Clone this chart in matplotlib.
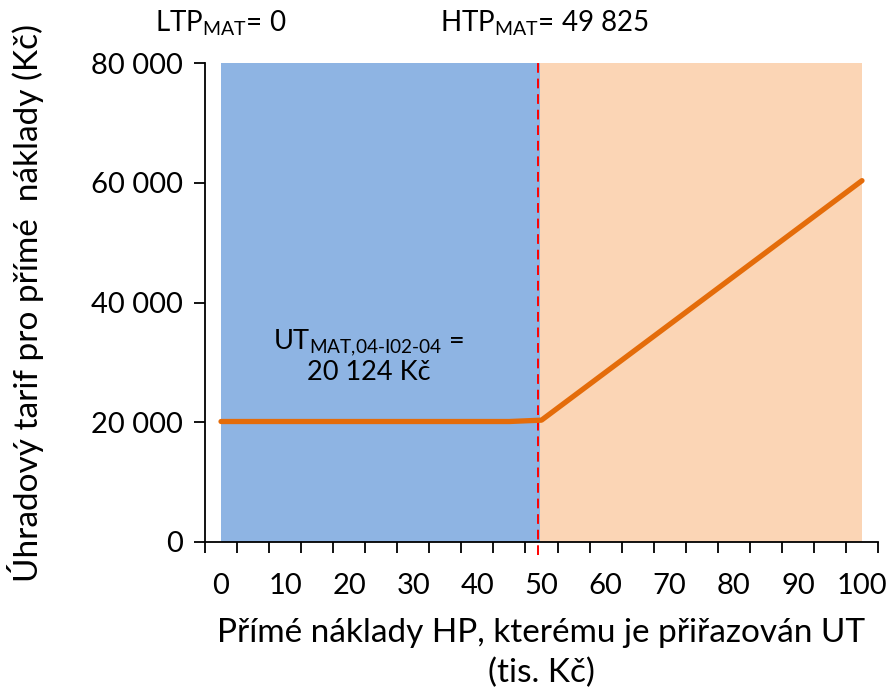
import matplotlib
matplotlib.use("Agg")
import matplotlib.pyplot as plt
from matplotlib.ticker import FixedLocator, FuncFormatter

plt.rcParams['font.family'] = ['Lato', 'DejaVu Sans']
plt.rcParams['mathtext.fontset'] = 'custom'
plt.rcParams['mathtext.rm'] = 'Lato'
plt.rcParams['mathtext.it'] = 'Lato'

# Data
categories = [0, 5, 10, 15, 20, 25, 30, 35, 40, 45, 50, 55, 60, 65, 70, 75, 80, 85, 90, 95, 100]
ut_values = [20124, 20124, 20124, 20124, 20124, 20124, 20124, 20124, 20124, 20124,
             20350, 24350, 28350, 32350, 36350, 40350, 44350, 48350, 52350, 56350, 60350]
ltp = 0
htp = 49.825
htp_line = 49.5
x_labels = [0, 10, 20, 30, 40, 50, 60, 70, 80, 90, 100]
y_ticks = [0, 20000, 40000, 60000, 80000]

fig = plt.figure(figsize=(8.87, 6.90), dpi=100)
ax = fig.add_axes([205/887, 148/690, 673/887, 479/690])

ax.set_xlim(-2.5, 102.5)
ax.set_ylim(0, 80000)

# background zones
ax.fill_between([ltp, htp], 0, 80000, color='#8EB4E3', lw=0, zorder=1)
ax.fill_between([htp, 100], 0, 80000, color='#FBD5B5', lw=0, zorder=1)

# HTP dashed line
ax.plot([htp_line, htp_line], [-2200, 80000], color='#FF0000', lw=1.4,
        dashes=(5, 3), clip_on=False, zorder=3)

# UT line
ax.plot(categories, ut_values, color='#E46C0A', lw=3.8, solid_capstyle='round',
        solid_joinstyle='round', zorder=4)

# spines
for s in ['top', 'right']:
    ax.spines[s].set_visible(False)
for s in ['left', 'bottom']:
    ax.spines[s].set_linewidth(1.3)
    ax.spines[s].set_color('#000000')
    ax.spines[s].set_zorder(5)

# x ticks: marks between categories, labels at every 10
ax.xaxis.set_major_locator(FixedLocator([-2.5 + 5 * i for i in range(22)]))
ax.xaxis.set_major_formatter(FuncFormatter(lambda v, p: ''))
ax.xaxis.set_minor_locator(FixedLocator(x_labels))
ax.xaxis.set_minor_formatter(FuncFormatter(lambda v, p: f'{int(v)}'))
ax.tick_params(axis='x', which='major', direction='out', length=8, width=1.3)
ax.tick_params(axis='x', which='minor', length=0, labelsize=21, pad=22)

ax.set_yticks(y_ticks)
ax.yaxis.set_major_formatter(FuncFormatter(lambda v, p: f'{int(v):,}'.replace(',', ' ')))
ax.tick_params(axis='y', direction='out', length=8, width=1.3, labelsize=21, pad=8)

ax.set_xlabel('Přímé náklady HP, kterému je přiřazován UT\n(tis. Kč)', fontsize=24,
              labelpad=14, linespacing=1.4, va='top')
ax.set_ylabel('Úhradový tarif pro přímé  náklady (Kč)', fontsize=24, labelpad=34)

# top annotations
ax.text(ltp, 80000 + 6600, r'LTP$_{\mathrm{MAT}}$= 0', fontsize=20, ha='center', va='center')
ax.text(htp + 0.6, 80000 + 6600, r'HTP$_{\mathrm{MAT}}$= 49 825', fontsize=20, ha='center', va='center')

ax.text(23, 31000, r'UT$_{\mathrm{MAT{,}04\text{-}I02\text{-}04}}$ =' + '\n20 124 Kč', fontsize=19.5,
        ha='center', va='center', linespacing=1.1, zorder=6)

fig.savefig('out.png', dpi=100)
